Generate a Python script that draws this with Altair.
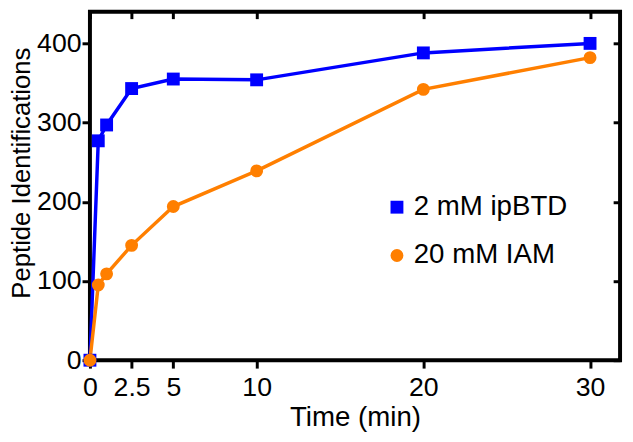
import altair as alt
import pandas as pd

times = [0, 0.5, 1, 2.5, 5, 10, 20, 30]
ipbtd = [0, 277, 297, 343, 355, 354, 388, 400]
iam = [0, 95, 109, 145, 194, 239, 342, 382]
series_names = ["2 mM ipBTD", "20 mM IAM"]
colors = ["#0000FF", "#FF7F00"]
shapes = ["square", "circle"]
x_ticks = [0, 2.5, 5, 10, 20, 30]
y_ticks = [0, 100, 200, 300, 400]

df = pd.DataFrame({
    "time": times + times,
    "count": ipbtd + iam,
    "series": [series_names[0]] * len(times) + [series_names[1]] * len(times),
})

FONT = "Liberation Sans"
xscale = alt.Scale(domain=[0, 31.8], nice=False, zero=False)
yscale = alt.Scale(domain=[0, 440], nice=False)
cscale = alt.Scale(domain=series_names, range=colors)
# line stroke scale listed in reverse order so its legend is kept apart from the point legend
stroke_scale = alt.Scale(domain=series_names[::-1], range=colors[::-1])
sscale = alt.Scale(domain=series_names, range=shapes)

base = alt.Chart(df)

lines = base.mark_line(strokeWidth=3.5, clip=False).encode(
    x=alt.X("time:Q", scale=xscale,
            axis=alt.Axis(orient="bottom", values=x_ticks, title="Time (min)",
                          format="~g", tickSize=8, labelPadding=7, titlePadding=3,
                          titleFontSize=28,
                          labelFlush=False, labelOverlap=False)),
    y=alt.Y("count:Q", scale=yscale,
            axis=alt.Axis(orient="left", values=y_ticks, title="Peptide Identifications",
                          tickSize=8, labelPadding=1,
                          titleFontSize=26, titleX=-82.5, titleY=163,
                          titleBaseline="top", titleAlign="center", titleAngle=270)),
    stroke=alt.Stroke("series:N", scale=stroke_scale, legend=None),
    detail="series:N",
)

leg = alt.Legend(orient="none", legendX=297, legendY=184,
                 labelFontSize=28, labelFont=FONT,
                 symbolSize=170, symbolStrokeWidth=0,
                 rowPadding=21, labelOffset=3, padding=0)

points = base.mark_point(filled=True, size=170, opacity=1, clip=False).encode(
    x=alt.X("time:Q", scale=xscale, axis=None),
    y=alt.Y("count:Q", scale=yscale, axis=None),
    color=alt.Color("series:N", scale=cscale, title=None, legend=leg),
    shape=alt.Shape("series:N", scale=sscale, title=None, legend=leg),
)

frame_ticks = base.mark_point(opacity=0).encode(
    x=alt.X("time:Q", scale=xscale,
            axis=alt.Axis(orient="top", values=x_ticks, labels=False, domain=False,
                          tickSize=7, offset=-7, title=None)),
    y=alt.Y("count:Q", scale=yscale,
            axis=alt.Axis(orient="right", values=y_ticks, labels=False, domain=False,
                          tickSize=7, offset=-7, title=None)),
)

chart = alt.layer(lines, frame_ticks, points).resolve_axis(
    x="independent", y="independent"
).properties(
    width=537,
    height=353,
    autosize=alt.AutoSizeParams(type="none"),
    padding={"left": 83, "top": 1, "right": 5, "bottom": 73},
).configure_view(
    stroke="black", strokeWidth=4
).configure_axis(
    domain=False, tickColor="black", tickWidth=3,
    labelFont=FONT, labelFontSize=27, labelColor="black",
    titleFont=FONT, titleFontSize=28, titleColor="black", titleFontWeight="normal",
    grid=False,
).configure_legend(
    labelColor="black"
)

chart.save("out.html", embed_options={"renderer": "svg", "actions": False})
